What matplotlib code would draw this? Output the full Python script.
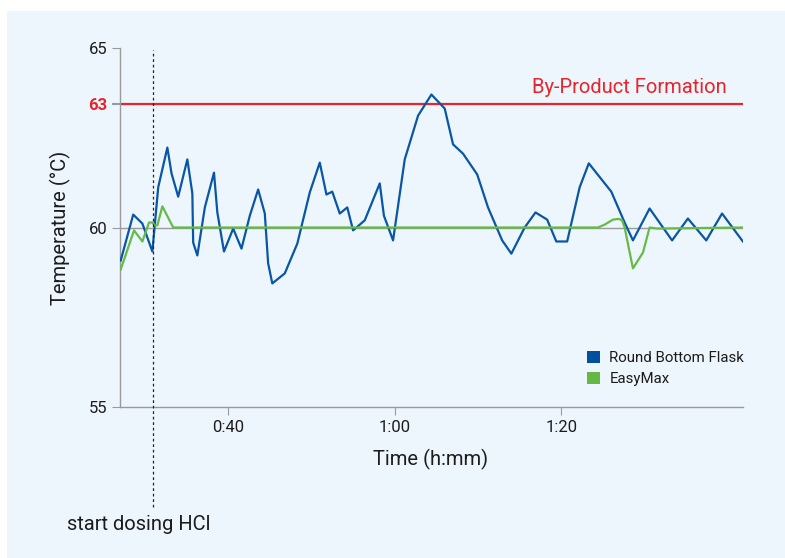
import matplotlib
matplotlib.use('Agg')
import matplotlib.pyplot as plt
from matplotlib.patches import Patch, Rectangle

plt.rcParams['font.family'] = ['Roboto', 'DejaVu Sans']

# time in minutes, temperature in degC
flask_time = [27.1, 28.6, 29.7, 30.9, 31.6, 32.7, 33.2, 34.0, 35.1, 35.7, 35.8, 36.3,
              37.2, 38.3, 38.7, 39.5, 40.6, 41.6, 42.6, 43.6, 44.4, 44.8, 45.3, 46.8,
              48.3, 49.8, 51.0, 51.8, 52.5, 53.4, 54.3, 55.0, 56.4, 58.2, 58.7, 59.8,
              61.2, 62.8, 64.4, 66.0, 67.0, 68.2, 69.9, 71.2, 72.9, 74.0, 75.6, 76.9,
              78.3, 79.4, 80.7, 82.2, 83.3, 86.0, 87.6, 88.6, 90.6, 91.6, 93.3, 95.2,
              97.4, 99.3, 101.8]
flask_temp = [59.08, 60.36, 60.11, 59.33, 61.12, 62.23, 61.51, 60.86, 61.90, 60.95, 59.58, 59.22,
              60.56, 61.53, 60.42, 59.33, 59.97, 59.41, 60.33, 61.06, 60.39, 59.00, 58.44, 58.72,
              59.55, 60.98, 61.81, 60.92, 61.00, 60.39, 60.56, 59.92, 60.20, 61.23, 60.33, 59.64,
              61.90, 63.12, 63.71, 63.32, 62.32, 62.06, 61.48, 60.56, 59.64, 59.27, 60.00, 60.42,
              60.22, 59.61, 59.61, 61.12, 61.79, 61.00, 60.14, 59.64, 60.53, 60.20, 59.64, 60.25,
              59.64, 60.39, 59.61]

easymax_time = [27.1, 28.7, 29.7, 30.5, 30.9, 31.2, 31.5, 32.1, 33.4, 84.4, 85.2, 86.2,
                86.9, 87.3, 87.6, 88.6, 89.8, 90.6, 91.5, 101.8]
easymax_temp = [58.83, 59.92, 59.61, 60.14, 60.14, 60.06, 60.06, 60.59, 60.00, 60.00, 60.08, 60.22,
                60.24, 60.20, 60.00, 58.86, 59.30, 60.00, 59.97, 60.00]

setpoint = 60
byproduct_level = 63.45   # where the "63" line sits on the drawn axis
dosing_start = 31.0
x_ticks = [40, 60, 80]
x_labels = ['0:40', '1:00', '1:20']
y_ticks = [55, 60, byproduct_level, 65]
y_labels = ['55', '60', '63', '65']

blue = '#0a56a6'
green = '#66bb46'
red = '#e8242c'
grey = '#9a9a9a'
text_col = '#1c1c1c'

fig = plt.figure(figsize=(7.85, 5.58), dpi=100)
fig.patch.set_facecolor('white')
fig.patches.append(Rectangle((7 / 785, 0), 1, 1 - 11 / 558, transform=fig.transFigure,
                             facecolor='#eef6fd', edgecolor='none', zorder=-10))

ax = fig.add_axes([120.3 / 785, 1 - 406.7 / 558, 623 / 785, 358.4 / 558])
ax.set_facecolor('none')
ax.set_xlim(27.05, 101.85)
ax.set_ylim(55, 65)

for s in ['top', 'right']:
    ax.spines[s].set_visible(False)
for s in ['left', 'bottom']:
    ax.spines[s].set_color(grey)
    ax.spines[s].set_linewidth(1)

ax.set_xticks(x_ticks)
ax.set_xticklabels(x_labels)
ax.set_yticks(y_ticks)
ax.set_yticklabels(y_labels)
ax.tick_params(axis='both', colors=grey, labelcolor=text_col, length=5.8, width=0.8,
               labelsize=12, pad=3.5)
ax.get_yticklabels()[2].set_color(red)
ax.get_yticklabels()[2].set_fontweight('bold')
ax.yaxis.get_major_ticks()[2].tick1line.set_color(red)
ax.yaxis.get_major_ticks()[2].tick1line.set_markeredgewidth(1.5)

ax.axhline(setpoint, color=grey, lw=1, zorder=1)
ax.axhline(byproduct_level, color=red, lw=1.6, zorder=2)

ax.plot(flask_time, flask_temp, color=blue, lw=1.6, solid_joinstyle='round', zorder=3)
ax.plot(easymax_time, easymax_temp, color=green, lw=1.6, solid_joinstyle='round', zorder=4)

ax.plot([dosing_start, dosing_start], [52.2, 64.95], color='#222222', lw=0.9,
        dashes=(2.2, 2.2), clip_on=False, zorder=5)

ax.text(99.9, 63.9, 'By-Product Formation', color=red, fontsize=14.5,
        ha='right', va='center')

fig.text(60 / 785, 1 - 228 / 558, 'Temperature (°C)', rotation=90, fontsize=14.5,
         ha='center', va='center', color=text_col)
fig.text(431 / 785, 1 - 459 / 558, 'Time (h:mm)', fontsize=14.5,
         ha='center', va='center', color=text_col)
fig.text(139 / 785, 1 - 524.5 / 558, 'start dosing HCl', fontsize=14.5,
         ha='center', va='center', color=text_col)

handles = [Patch(facecolor='#0050a2', edgecolor='none'),
           Patch(facecolor='#66b845', edgecolor='none')]
ax.legend(handles, ['Round Bottom Flask', 'EasyMax'], loc='upper left',
          bbox_to_anchor=(0.749, 0.155), frameon=False, fontsize=10.8,
          handlelength=0.87, handleheight=0.87, handletextpad=0.62,
          borderpad=0, borderaxespad=0, labelspacing=0.45, labelcolor=text_col)

fig.savefig('out.png', dpi=100, facecolor=fig.get_facecolor())
